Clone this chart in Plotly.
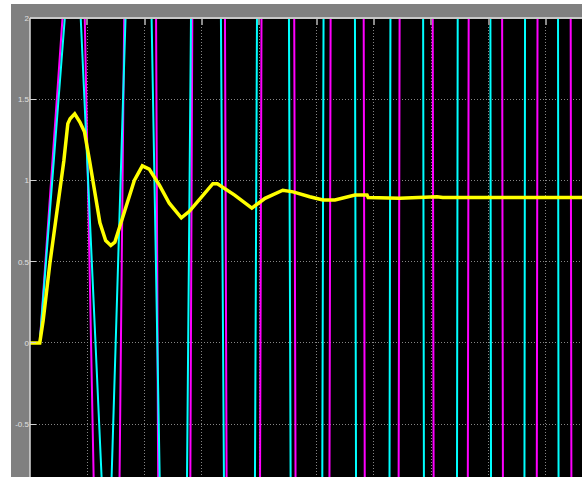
import plotly.graph_objects as go

# ---- data (time in s, signal values) ----
yellow_t = [0, 0.17, 0.23, 0.295, 0.347, 0.59, 0.66, 0.70, 0.78, 0.87, 0.95, 1.04, 1.15, 1.22, 1.32,
            1.41, 1.48, 1.65, 1.82, 1.96, 2.08, 2.26, 2.43, 2.64, 2.78, 2.95, 3.19, 3.27, 3.57,
            3.87, 4.10, 4.41, 4.59, 4.88, 5.11, 5.32, 5.67, 5.88, 5.90, 6.45, 7.10, 7.20, 8.00, 9.70]
yellow_y = [0, 0, 0.14, 0.36, 0.49, 1.12, 1.35, 1.38, 1.41, 1.36, 1.30, 1.12, 0.88, 0.74, 0.63,
            0.60, 0.62, 0.81, 1.00, 1.09, 1.07, 0.97, 0.86, 0.77, 0.81, 0.88, 0.98, 0.98, 0.91,
            0.83, 0.89, 0.94, 0.93, 0.90, 0.88, 0.88, 0.91, 0.91, 0.895, 0.89, 0.90, 0.895, 0.895, 0.895]

cyan_t = [0, 0.17, 0.782, 1.354, 1.954, 2.582, 3.106, 3.708, 4.265, 4.862, 5.415, 6.003,
          6.596, 7.179, 7.761, 8.349, 8.937, 9.525, 10.107]
cyan_y = [0, 0, 2.80, -1.64, 5.35, -7.22, 14.1, -18.3, 26.6, -31.5, 40, -48,
          56, -64, 72, -80, 88, -96, 104]

magenta_t = [0, 0.17, 0.871, 1.407, 2.028, 2.525, 3.145, 3.737, 4.34, 4.943, 5.546, 6.149,
             6.747, 7.349, 7.957, 8.555, 9.153, 9.746, 10.348]
magenta_y = [0, 0, 3.53, -6.23, 15.37, -23.4, 28, -32, 36, -40, 44, -48,
             52, -56, 60, -64, 68, -72, 76]

y_tick_vals = [2, 1.5, 1, 0.5, 0, -0.5]
y_tick_text = ["2", "1.5", "1", "0.5", "0", "-0.5"]
x_tick_vals = [0, 1, 2, 3, 4, 5, 6, 7, 8, 9]

W, H = 582, 477
L, T = 30, 18
PW, PH = W - L, H - T

fig = go.Figure()
fig.add_trace(go.Scatter(x=magenta_t, y=magenta_y, mode="lines",
                         line=dict(color="#ff00ff", width=2), hoverinfo="skip"))
fig.add_trace(go.Scatter(x=cyan_t, y=cyan_y, mode="lines",
                         line=dict(color="#00ffff", width=2), hoverinfo="skip"))
fig.add_trace(go.Scatter(x=yellow_t, y=yellow_y, mode="lines",
                         line=dict(color="#ffff00", width=3.5), hoverinfo="skip"))

grid_style = dict(showgrid=True, gridcolor="#858585", gridwidth=1, griddash="1px,2px",
                  zeroline=False)

fig.update_layout(
    width=W, height=H,
    margin=dict(l=L, r=0, t=T, b=0, pad=0),
    paper_bgcolor="#808080",
    plot_bgcolor="#000000",
    showlegend=False,
    xaxis=dict(range=[0, 9.63], tickvals=x_tick_vals, side="top", ticks="inside",
               ticklen=7, tickwidth=2, tickcolor="#8a8a8a", showticklabels=False,
               showline=False, fixedrange=True, **grid_style),
    yaxis=dict(range=[-0.825, 2], tickvals=y_tick_vals, ticktext=y_tick_text,
               ticks="inside", ticklen=6, tickwidth=1, tickcolor="#d0d0d0",
               tickfont=dict(family="Liberation Sans", size=8, color="#e0e0e0"),
               showline=False, fixedrange=True, **grid_style),
    shapes=[
        # white page strips outside the grey frame
        dict(type="rect", xref="paper", yref="paper", x0=-L / PW, x1=-19 / PW,
             y0=-0.1, y1=1.1, fillcolor="white", line=dict(width=0), layer="below"),
        dict(type="rect", xref="paper", yref="paper", x0=-L / PW, x1=1.0,
             y0=1 + 14 / PH, y1=1 + 18 / PH, fillcolor="white", line=dict(width=0), layer="below"),
        # light border of the axes box
        dict(type="line", xref="paper", yref="paper", x0=0, x1=1, y0=1, y1=1,
             line=dict(color="#c8c8c8", width=2), layer="above"),
        dict(type="line", xref="paper", yref="paper", x0=0, x1=0, y0=0, y1=1,
             line=dict(color="#d8d8d8", width=1.5), layer="above"),
    ],
)

fig.write_html("out.html", config={"displayModeBar": False},
               post_script="document.body.style.margin='0px';document.body.style.overflow='hidden';")
